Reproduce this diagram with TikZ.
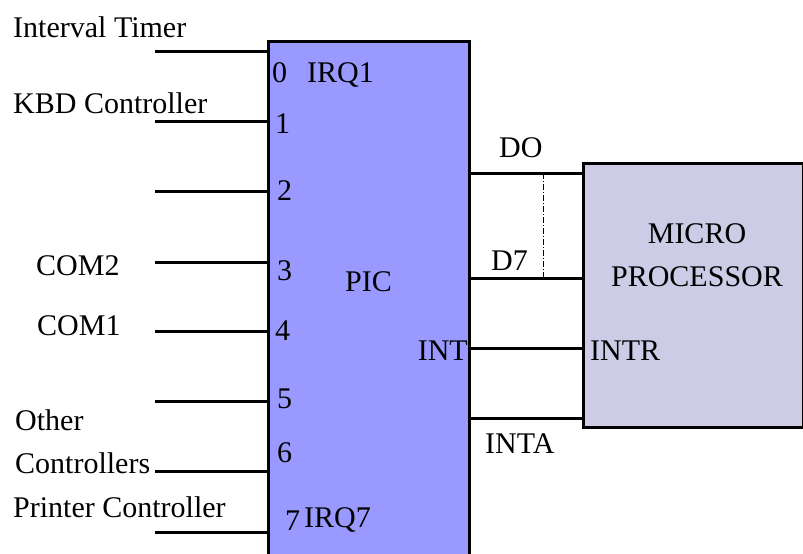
\documentclass[tikz,border=0pt]{standalone}
\usepackage{fontspec}
\setmainfont{Liberation Serif}
\definecolor{picblue}{RGB}{153,153,255}
\definecolor{mplav}{RGB}{204,204,230}
\begin{document}
\begin{tikzpicture}[x=1pt,y=-1pt,
  every node/.style={font=\fontsize{30}{32}\selectfont},
  lbl/.style={anchor=base west,inner sep=0pt},
  lblr/.style={anchor=base east,inner sep=0pt},
  lblc/.style={anchor=base,inner sep=0pt},
  wire/.style={line width=3pt},
  blockbox/.style={draw,line width=3pt,rectangle,inner sep=0pt}]
\useasboundingbox (0,0) rectangle (803,554);
% blocks
\node[blockbox,fill=picblue,minimum width=201pt,minimum height=560pt,anchor=north west] (pic) at (267,40) {};
\node[blockbox,fill=mplav,minimum width=220pt,minimum height=264pt,anchor=north west] (mp) at (582,162) {};
% input wire free ends
\foreach \i/\y in {0/51,1/121,2/191,3/262,4/331,5/401,6/471,7/532}{
  \coordinate (in\i) at (155,\y);
  \draw[wire] (in\i) -- (in\i -| pic.west);
}
% output wires
\coordinate (d0) at (468,173);
\coordinate (d7) at (468,278);
\coordinate (intr) at (468,348);
\coordinate (inta) at (468,418);
\foreach \c in {d0,d7,intr,inta}{
  \draw[wire] (\c -| pic.east) -- (\c -| mp.west);
}
\coordinate (dtop) at (543,173);
\coordinate (dbot) at (543,278);
\draw[line width=0.8pt,dash pattern=on 6pt off 2pt on 1pt off 2pt] (dtop) -- (dbot);
% left labels
\node[lbl] (tIT) at (13,37) {Interval Timer};
\node[lbl] (tKBD) at (13,113) {KBD Controller};
\node[lbl] (tC2) at (36,275) {COM2};
\node[lbl] (tC1) at (37,335) {COM1};
\node[lbl] (tOt) at (15,430) {Other};
\node[lbl] (tOc) at (15,473) {Controllers};
\node[lbl] (tPr) at (13,517) {Printer Controller};
% PIC labels
\node[lbl] (n0) at (272,82) {0};
\node[lbl] (irq1) at (307,82) {IRQ1};
\node[lbl] (n1) at (275,133) {1};
\node[lbl] (n2) at (277,200) {2};
\node[lbl] (n3) at (277,280) {3};
\node[lbl] (tpic) at (345,291) {PIC};
\node[lbl] (n4) at (275,340) {4};
\node[lblr] (tint) at (468,360) {INT};
\node[lbl] (n5) at (277,408) {5};
\node[lbl] (n6) at (277,462) {6};
\node[lbl] (n7) at (285,530) {7};
\node[lbl] (irq7) at (304,527) {IRQ7};
% right labels
\node[lbl] (tD0) at (499,157) {DO};
\node[lbl] (tD7) at (491,270) {D7};
\node[lblc] (tmicro) at (697,243) {MICRO};
\node[lblc] (tproc) at (697,286) {PROCESSOR};
\node[lbl] (tintr) at (590,360) {INTR};
\node[lbl] (tinta) at (485,453) {INTA};
\end{tikzpicture}
\end{document}
